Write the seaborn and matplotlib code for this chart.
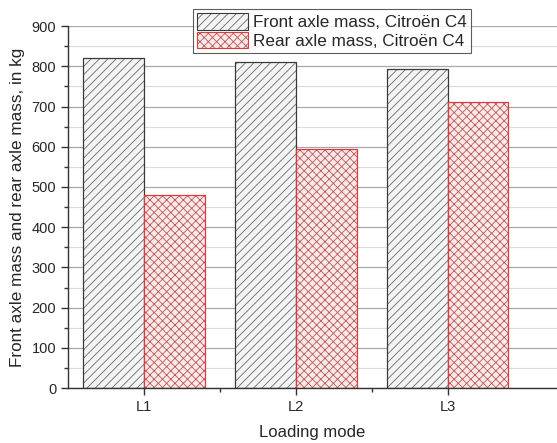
import matplotlib
matplotlib.use("Agg")
import matplotlib.pyplot as plt
import seaborn as sns
import pandas as pd
from matplotlib.colors import to_rgba
from matplotlib.ticker import MultipleLocator

modes = ["L1", "L2", "L3"]
front = [820, 810, 793]
rear = [480, 595, 712]
series = ["Front axle mass, Citroën C4", "Rear axle mass, Citroën C4"]

df = pd.DataFrame({
    "mode": modes * 2,
    "mass": front + rear,
    "series": [series[0]] * 3 + [series[1]] * 3,
})

sns.set_style("white")
plt.rcParams["font.family"] = ["Liberation Sans", "DejaVu Sans"]
plt.rcParams["hatch.linewidth"] = 0.6

fig = plt.figure(figsize=(5.57, 4.43), dpi=100)
ax = fig.add_axes([0.122, 0.124, 0.878, 0.817])

sns.barplot(data=df, x="mode", y="mass", hue="series", ax=ax,
            width=0.8, gap=0, legend=False, saturation=1)

styles = [
    dict(face="#f4f4f4", edge="#3a3a3a", hatchc="#6a6a6a", hatch="////"),
    dict(face="#fbe8e8", edge="#d83c3c", hatchc="#b85a5a", hatch="xxxx"),
]
handles = []
for cont, st in zip(ax.containers, styles):
    for p in cont:
        p.set_facecolor(st["face"])
        p.set_edgecolor(st["edge"])
        p.set_hatch(st["hatch"])
        p.set_linewidth(0.9)
        p._hatch_color = to_rgba(st["hatchc"])
    handles.append(cont[0])

ax.set_ylim(0, 900)
ax.set_xlim(-0.5, 2.72)
ax.yaxis.set_major_locator(MultipleLocator(100))
ax.yaxis.set_minor_locator(MultipleLocator(50))
ax.set_xticks([0, 1, 2])
ax.set_xticks([0.5, 1.5], minor=True)
ax.grid(True, which="major", axis="y", color="#a8a8a8", linewidth=0.9)
ax.grid(True, which="minor", axis="y", color="#dadada", linewidth=0.8)
ax.set_axisbelow(True)

for s in ["top", "right"]:
    ax.spines[s].set_visible(False)
for s in ["left", "bottom"]:
    ax.spines[s].set_color("#333333")
    ax.spines[s].set_linewidth(1.0)

ax.tick_params(axis="both", which="major", direction="out", length=5, width=1,
               color="#333333", labelsize=10.5, left=True, bottom=True)
ax.tick_params(axis="both", which="minor", direction="out", length=3, width=1,
               color="#333333", left=True, bottom=True)

ax.set_xlabel("Loading mode", fontsize=12, labelpad=8)
ax.set_ylabel("Front axle mass and rear axle mass, in kg", fontsize=12.3, labelpad=5)

leg = ax.legend(handles, series, loc="upper left", bbox_to_anchor=(0.255, 1.047),
                fontsize=12.3, frameon=True, fancybox=False, borderpad=0.25,
                handlelength=3.0, handleheight=1.1, handletextpad=0.3,
                labelspacing=0.08, borderaxespad=0)
leg.get_frame().set_edgecolor("#333333")
leg.get_frame().set_linewidth(0.8)
for h in leg.legend_handles:
    h.set_linewidth(0.8)

fig.savefig("out.png", dpi=100)
